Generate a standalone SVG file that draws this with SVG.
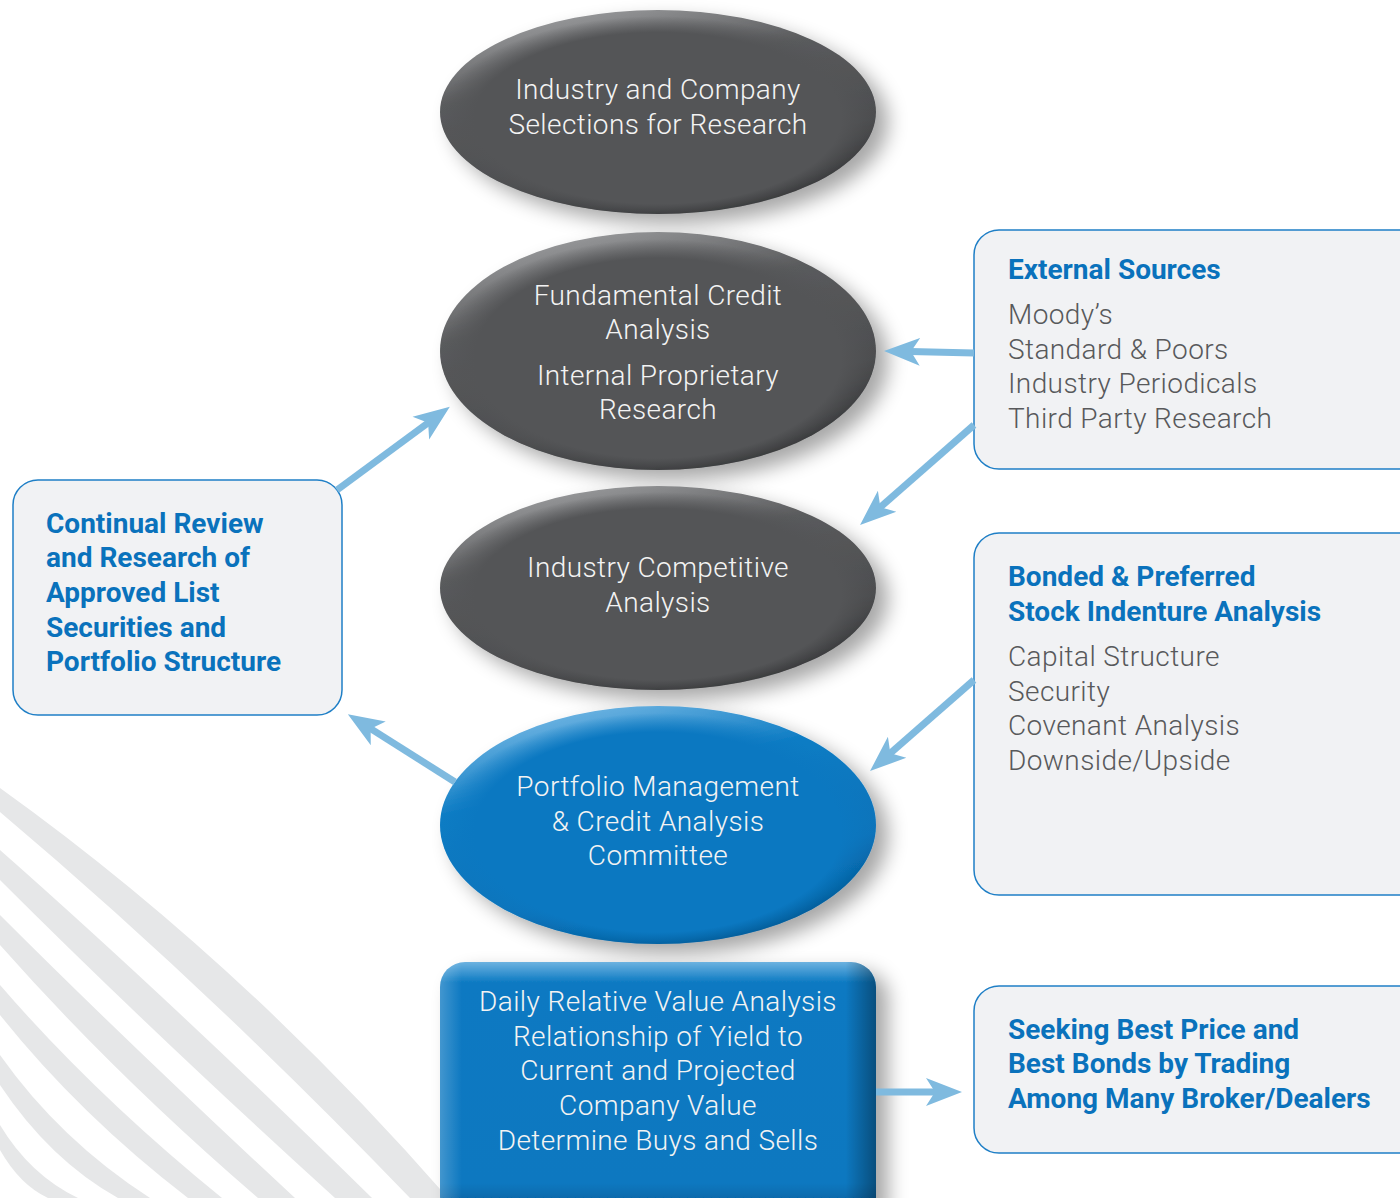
<svg xmlns="http://www.w3.org/2000/svg" width="1400" height="1198" viewBox="0 0 1400 1198">
<defs>
<style>
.t{font-family:Roboto,"Liberation Sans",sans-serif;font-size:28px;font-weight:300;letter-spacing:0.4px;fill:#f3f3f3;text-anchor:middle}
.h{font-family:Roboto,"Liberation Sans",sans-serif;font-size:28px;font-weight:bold;fill:#0a72bc}
.i{font-family:Roboto,"Liberation Sans",sans-serif;font-size:28px;font-weight:300;letter-spacing:0.4px;fill:#58595b}
.box{fill:#f1f2f4;stroke:#1f7fc6;stroke-width:1.5}
.band{fill:#e6e7e8}
.conn{stroke:#7fbadf;stroke-width:7;fill:none;marker-end:url(#ah)}
</style>
<marker id="ah" markerUnits="userSpaceOnUse" markerWidth="40" markerHeight="30" viewBox="0 -15 40 30" refX="10" refY="0" orient="auto">
<path d="M36,0 L0,-14 L9,0 L0,14 Z" fill="#7fbadf"/>
</marker>
<filter id="sh" x="-20%" y="-20%" width="150%" height="150%">
<feGaussianBlur in="SourceAlpha" stdDeviation="10"/>
<feOffset dx="12" dy="10"/>
<feComponentTransfer><feFuncA type="linear" slope="0.35"/></feComponentTransfer>
<feMerge><feMergeNode/><feMergeNode in="SourceGraphic"/></feMerge>
</filter>
<linearGradient id="gG" x1="0.3" y1="0" x2="0.7" y2="1">
<stop offset="0" stop-color="#9a9b9d"/><stop offset=".3" stop-color="#5a5b5d"/><stop offset=".7" stop-color="#4c4d4f"/><stop offset="1" stop-color="#2a2b2d"/>
</linearGradient>
<radialGradient id="gGi" cx=".5" cy=".53" r=".5">
<stop offset="0" stop-color="#545557"/><stop offset=".84" stop-color="#545557"/><stop offset="1" stop-color="#545557" stop-opacity="0"/>
</radialGradient>
<linearGradient id="gB" x1="0.3" y1="0" x2="0.7" y2="1">
<stop offset="0" stop-color="#72b6e3"/><stop offset=".3" stop-color="#0d7cc4"/><stop offset=".7" stop-color="#0a73ba"/><stop offset="1" stop-color="#004c82"/>
</linearGradient>
<radialGradient id="gBi" cx=".5" cy=".53" r=".5">
<stop offset="0" stop-color="#0b78c1"/><stop offset=".84" stop-color="#0b78c1"/><stop offset="1" stop-color="#0b78c1" stop-opacity="0"/>
</radialGradient>
<linearGradient id="rV" x1="0" y1="0" x2="0" y2="1">
<stop offset="0" stop-color="#6cb2e0"/><stop offset=".08" stop-color="#0b79c2"/><stop offset=".85" stop-color="#0b78c0"/><stop offset="1" stop-color="#00548c"/>
</linearGradient>
<linearGradient id="rH" x1="0" y1="0" x2="1" y2="0">
<stop offset="0" stop-color="#ffffff" stop-opacity=".22"/><stop offset=".05" stop-color="#ffffff" stop-opacity="0"/><stop offset=".93" stop-color="#000000" stop-opacity="0"/><stop offset="1" stop-color="#000000" stop-opacity=".35"/>
</linearGradient>
</defs>

<g id="background">
<path class="band" d="M0,788 Q240,960 448,1198 L410,1198 Q205,985 0,812 Z"/>
<path class="band" d="M0,850 Q170,1000 372,1198 L335,1198 Q150,1030 0,880 Z"/>
<path class="band" d="M0,915 Q130,1045 295,1198 L258,1198 Q115,1075 0,945 Z"/>
<path class="band" d="M0,985 Q95,1095 222,1198 L188,1198 Q80,1115 0,1015 Z"/>
<path class="band" d="M0,1055 Q60,1140 150,1198 L118,1198 Q50,1160 0,1085 Z"/>
<path class="band" d="M0,1125 Q30,1175 78,1198 L48,1198 Q20,1185 0,1150 Z"/>
</g>

<g id="n1">
<ellipse cx="658" cy="112" rx="218" ry="102" fill="url(#gG)" filter="url(#sh)"/>
<ellipse cx="658" cy="112" rx="218" ry="102" fill="url(#gGi)"/>
<text class="t" x="658" y="99">Industry and Company</text>
<text class="t" x="658" y="134">Selections for Research</text>
</g>

<g id="n2">
<ellipse cx="658" cy="351" rx="218" ry="119" fill="url(#gG)" filter="url(#sh)"/>
<ellipse cx="658" cy="351" rx="218" ry="119" fill="url(#gGi)"/>
<text class="t" x="658" y="305">Fundamental Credit</text>
<text class="t" x="658" y="339">Analysis</text>
<text class="t" x="658" y="385">Internal Proprietary</text>
<text class="t" x="658" y="419">Research</text>
</g>

<g id="n3">
<ellipse cx="658" cy="588" rx="218" ry="102" fill="url(#gG)" filter="url(#sh)"/>
<ellipse cx="658" cy="588" rx="218" ry="102" fill="url(#gGi)"/>
<text class="t" x="658" y="577">Industry Competitive</text>
<text class="t" x="658" y="612">Analysis</text>
</g>

<g id="n4">
<ellipse cx="658" cy="825" rx="218" ry="119" fill="url(#gB)" filter="url(#sh)"/>
<ellipse cx="658" cy="825" rx="218" ry="119" fill="url(#gBi)"/>
<text class="t" x="658" y="796">Portfolio Management</text>
<text class="t" x="658" y="831">&amp; Credit Analysis</text>
<text class="t" x="658" y="865">Committee</text>
</g>

<g id="n5">
<rect x="440" y="962" width="436" height="260" rx="25" fill="url(#rV)" filter="url(#sh)"/>
<rect x="440" y="962" width="436" height="260" rx="25" fill="url(#rH)"/>
<text class="t" x="658" y="1011">Daily Relative Value Analysis</text>
<text class="t" x="658" y="1046">Relationship of Yield to</text>
<text class="t" x="658" y="1080">Current and Projected</text>
<text class="t" x="658" y="1115">Company Value</text>
<text class="t" x="658" y="1150">Determine Buys and Sells</text>
</g>

<g id="n6">
<rect class="box" x="13" y="480" width="329" height="235" rx="25"/>
<text class="h" x="46" y="533">Continual Review</text>
<text class="h" x="46" y="567">and Research of</text>
<text class="h" x="46" y="602">Approved List</text>
<text class="h" x="46" y="637">Securities and</text>
<text class="h" x="46" y="671">Portfolio Structure</text>
</g>

<g id="n7">
<rect class="box" x="974" y="230" width="460" height="239" rx="25"/>
<text class="h" x="1008" y="279">External Sources</text>
<text class="i" x="1008" y="324">Moody’s</text>
<text class="i" x="1008" y="359">Standard &amp; Poors</text>
<text class="i" x="1008" y="393">Industry Periodicals</text>
<text class="i" x="1008" y="428">Third Party Research</text>
</g>

<g id="n8">
<rect class="box" x="974" y="533" width="460" height="362" rx="25"/>
<text class="h" x="1008" y="586">Bonded &amp; Preferred</text>
<text class="h" x="1008" y="621">Stock Indenture Analysis</text>
<text class="i" x="1008" y="666">Capital Structure</text>
<text class="i" x="1008" y="701">Security</text>
<text class="i" x="1008" y="735">Covenant Analysis</text>
<text class="i" x="1008" y="770">Downside/Upside</text>
</g>

<g id="n9">
<rect class="box" x="974" y="986" width="460" height="167" rx="25"/>
<text class="h" x="1008" y="1039">Seeking Best Price and</text>
<text class="h" x="1008" y="1073">Best Bonds by Trading</text>
<text class="h" x="1008" y="1108">Among Many Broker/Dealers</text>
</g>

<g id="connectors">
<line class="conn" x1="974" y1="353" x2="910" y2="351.6"/>
<line class="conn" x1="974" y1="425" x2="879.6" y2="507.8"/>
<line class="conn" x1="337" y1="490" x2="428.9" y2="422.2"/>
<line class="conn" x1="455" y1="782" x2="369.8" y2="728.1"/>
<line class="conn" x1="974" y1="680" x2="889.6" y2="753.9"/>
<line class="conn" x1="876" y1="1092" x2="936" y2="1092"/>
</g>
</svg>
